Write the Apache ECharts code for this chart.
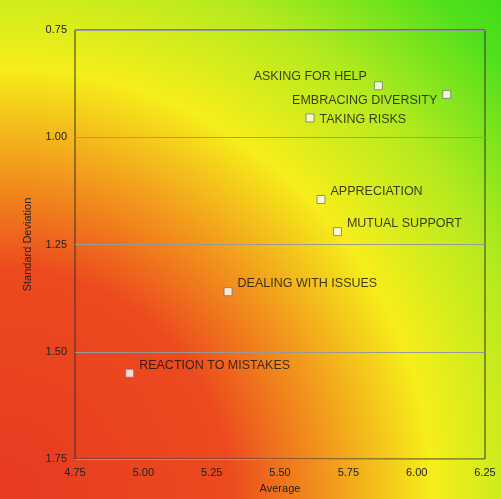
<!DOCTYPE html>
<html><head><meta charset="utf-8">
<script src="https://cdn.jsdelivr.net/npm/echarts@6/dist/echarts.min.js"></script>
<style>html,body{margin:0;padding:0}#c{width:501px;height:499px}</style>
</head><body><div id="c"></div>
<script>
const names=["ASKING FOR HELP","EMBRACING DIVERSITY","TAKING RISKS","APPRECIATION","MUTUAL SUPPORT","DEALING WITH ISSUES","REACTION TO MISTAKES"];
const averages=[5.86,6.11,5.61,5.65,5.71,5.31,4.95];
const stdDevs=[0.88,0.90,0.955,1.145,1.22,1.36,1.55];
const labelPos=["left","left","right","right","right","right","right"];
const labelShift=[[-2,-9],[0,6],[0,2],[0,-8],[0,-8],[0,-8],[0,-8]];
const chart=echarts.init(document.getElementById('c'));
chart.setOption({
 graphic:[{type:'rect',z:-10,silent:true,shape:{x:0,y:0,width:501,height:499},
  style:{fill:new echarts.graphic.RadialGradient(0,499,720,[
   {offset:0,color:'#e83a22'},{offset:0.32,color:'#ec4a1e'},{offset:0.46,color:'#f29a1c'},
   {offset:0.6,color:'#f6ee1a'},{offset:0.76,color:'#b4ea1e'},{offset:0.92,color:'#52e01c'},{offset:1,color:'#3cdc1a'}],true)}}],
 grid:{left:75,right:16,top:30,bottom:39,show:true,borderColor:'#333',borderWidth:1},
 xAxis:{type:'value',min:4.75,max:6.25,interval:0.25,name:'Average',nameLocation:'middle',nameGap:24,
  nameTextStyle:{fontSize:11,color:'#222'},axisLine:{show:false},axisTick:{show:false},splitLine:{show:false},
  axisLabel:{color:'#222',fontSize:11,formatter:v=>v.toFixed(2)}},
 yAxis:{type:'value',inverse:true,min:0.75,max:1.75,interval:0.25,name:'Standard Deviation',nameLocation:'middle',nameGap:42,
  nameTextStyle:{fontSize:11,color:'#222'},axisLine:{show:false},axisTick:{show:false},
  splitLine:{lineStyle:{color:'#999'}},axisLabel:{color:'#222',fontSize:11,formatter:v=>v.toFixed(2)}},
 series:[{type:'scatter',symbol:'rect',symbolSize:8,
  itemStyle:{color:'#fff',borderColor:'#777',borderWidth:1},
  data:averages.map((a,i)=>({value:[a,stdDevs[i]],name:names[i],label:{position:labelPos[i],offset:labelShift[i]}})),
  label:{show:true,formatter:p=>p.name,color:'#111',fontSize:12.5,fontWeight:500,distance:5}}]
});
</script></body></html>
